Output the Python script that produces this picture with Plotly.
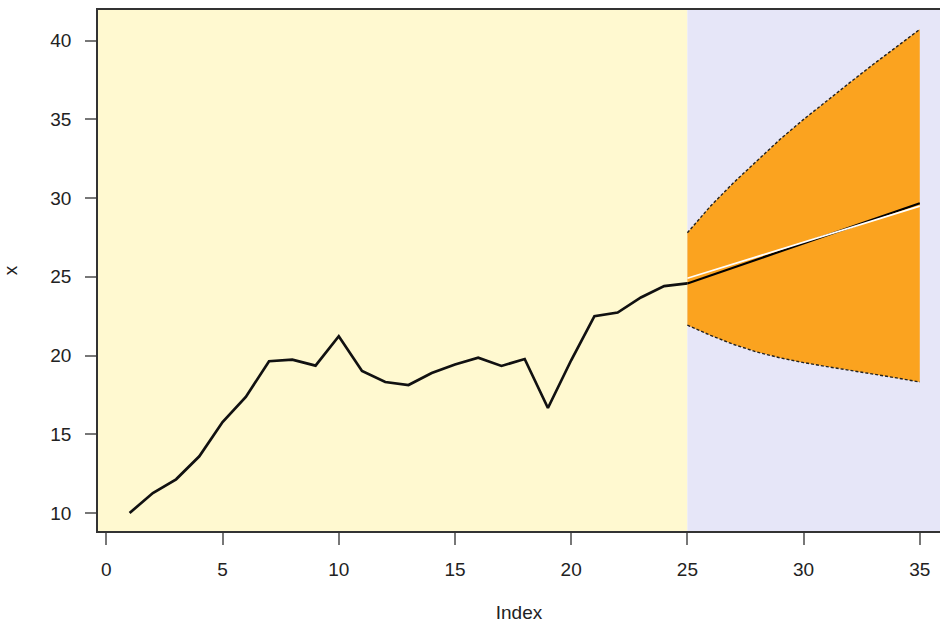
import plotly.graph_objects as go

# observed series
obs_x = list(range(1, 26))
obs_y = [10.0, 11.27, 12.14, 13.6, 15.78, 17.37, 19.64, 19.74, 19.36, 21.23,
         19.02, 18.32, 18.13, 18.89, 19.43, 19.87, 19.34, 19.78, 16.67, 19.7,
         22.5, 22.73, 23.69, 24.41, 24.58]

# forecast region
fc_x = list(range(25, 36))
fc_upper = [27.8, 29.5, 31.0, 32.4, 33.75, 35.0, 36.2, 37.35, 38.5, 39.62, 40.72]
fc_lower = [21.93, 21.28, 20.7, 20.22, 19.85, 19.55, 19.3, 19.07, 18.85, 18.58, 18.32]
fc_mean_white = [24.91, 29.49]
fc_mean_black = [24.58, 29.67]
fc_ends = [25, 35]

x_ticks = [0, 5, 10, 15, 20, 25, 30, 35]
y_ticks = [10, 15, 20, 25, 30, 35, 40]

FONT = "Liberation Sans, Arial, sans-serif"

fig = go.Figure()

# band fill
fig.add_trace(go.Scatter(
    x=fc_x + fc_x[::-1], y=fc_upper + fc_lower[::-1],
    fill="toself", fillcolor="#FBA31F", line=dict(width=0),
    mode="lines", hoverinfo="skip", showlegend=False))
# dashed bounds
for ys in (fc_upper, fc_lower):
    fig.add_trace(go.Scatter(x=fc_x, y=ys, mode="lines",
                             line=dict(color="#222222", width=1.4, dash="3px,2px"),
                             showlegend=False))
# black line in forecast
fig.add_trace(go.Scatter(x=fc_ends, y=fc_mean_black, mode="lines",
                         line=dict(color="black", width=2.2), showlegend=False))
# white line
fig.add_trace(go.Scatter(x=fc_ends, y=fc_mean_white, mode="lines",
                         line=dict(color="white", width=1.8), showlegend=False))
# observed
fig.add_trace(go.Scatter(x=obs_x, y=obs_y, mode="lines",
                         line=dict(color="#111111", width=2.7), showlegend=False))

fig.update_layout(
    width=940, height=623,
    margin=dict(l=98, r=0, t=10, b=92),
    paper_bgcolor="white", plot_bgcolor="white",
    font=dict(family=FONT, size=19, color="#222222"),
    shapes=[
        dict(type="rect", xref="x", yref="paper", x0=-1, x1=25, y0=0, y1=1,
             fillcolor="#FFF9D0", line=dict(width=0), layer="below"),
        dict(type="rect", xref="x", yref="paper", x0=25, x1=40, y0=0, y1=1,
             fillcolor="#E6E6F8", line=dict(width=0), layer="below"),
    ],
    xaxis=dict(range=[-0.36, 35.87], tickvals=x_ticks, ticktext=[str(v) for v in x_ticks],
               showgrid=False, zeroline=False, showline=True, mirror=True,
               linecolor="#333333", linewidth=1.5,
               ticks="outside", ticklen=12, tickcolor="#777777", tickwidth=1.5,
               ticklabelstandoff=8,
               title=dict(text="Index", standoff=29, font=dict(size=19))),
    yaxis=dict(range=[8.856, 41.95], tickvals=y_ticks, ticktext=[str(v) for v in y_ticks],
               showgrid=False, zeroline=False, showline=True, mirror=False,
               linecolor="#333333", linewidth=1.5,
               ticks="outside", ticklen=11, tickcolor="#777777", tickwidth=1.5,
               ticklabelstandoff=10,
               title=dict(text="x", standoff=28, font=dict(size=19))),
)

fig.write_html(
    "out.html",
    config={"displayModeBar": False},
    post_script="document.body.style.margin='0';document.body.style.overflow='hidden';",
)
